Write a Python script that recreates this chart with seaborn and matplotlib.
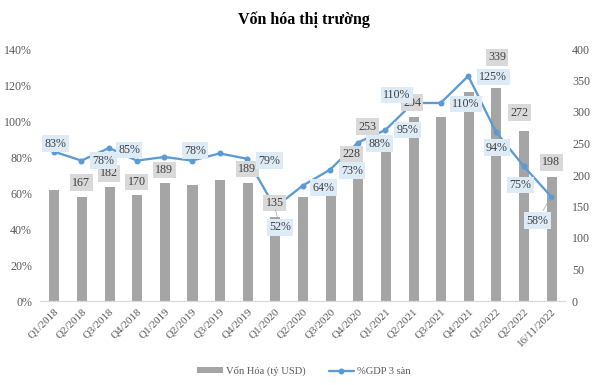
import numpy as np
import pandas as pd
import matplotlib
matplotlib.use('Agg')
import matplotlib.pyplot as plt
import seaborn as sns
from matplotlib.ticker import FuncFormatter, MultipleLocator
from matplotlib.patches import Patch
from matplotlib.lines import Line2D

# du lieu doc tu hinh
quarters = ['Q1/2018', 'Q2/2018', 'Q3/2018', 'Q4/2018',
            'Q1/2019', 'Q2/2019', 'Q3/2019', 'Q4/2019',
            'Q1/2020', 'Q2/2020', 'Q3/2020', 'Q4/2020',
            'Q1/2021', 'Q2/2021', 'Q3/2021', 'Q4/2021',
            'Q1/2022', 'Q2/2022', '16/11/2022']
von_hoa = [178, 167, 182, 170, 189, 186, 194, 189, 135, 167, 169, 228,
           253, 294, 294, 334, 339, 272, 198]
gdp_pct = [83, 78, 85, 78, 80, 78, 82, 79, 52, 64, 73, 88,
           95, 110, 110, 125, 94, 75, 58]

# nhan hien thi (chi so diem)
bar_label_idx = [1, 2, 3, 4, 7, 8, 11, 12, 13, 16, 17, 18]
line_label_idx = [0, 1, 2, 5, 7, 8, 9, 10, 11, 12, 13, 14, 15, 16, 17, 18]

# vi tri nhan (offset, px)
bar_off = {1: (0, 13), 2: (0, 13), 3: (0, 12), 4: (0, 12), 7: (0, 13),
           8: (0, 13), 11: (-6, 3), 12: (-18, 15), 13: (-1, 13),
           16: (1, 30), 17: (-4, 17), 18: (0, 14)}
line_off = {0: (2, 8), 1: (22, 0), 2: (20, -2), 5: (3, 10), 7: (22, -2),
            8: (5, -20), 9: (21, -2), 10: (22, -1), 11: (22, -1),
            12: (22, 0), 13: (-16, 8), 14: (25, -1), 15: (25, -1),
            16: (1, -16), 17: (-3, -19), 18: (-14, -24)}

bar_color = '#A5A5A5'
line_color = '#5B9BD5'
txt_color = '#595959'

sns.set_theme(style='white')
plt.rcParams['font.family'] = ['Liberation Serif', 'DejaVu Serif']

df = pd.DataFrame({'quy': quarters, 'von_hoa': von_hoa, 'gdp': gdp_pct})
n = len(df)

fig, ax = plt.subplots(figsize=(595 / 72, 385 / 72), dpi=72)
fig.subplots_adjust(left=40 / 595, right=565 / 595, bottom=84 / 385, top=1 - 49 / 385)

# cot: von hoa (truc phai)
sns.barplot(data=df, x='quy', y='von_hoa', color=bar_color, saturation=1,
            width=0.4, ax=ax)
ax.set_ylim(0, 400)
ax.yaxis.set_major_locator(MultipleLocator(50))
ax.set_xlabel('')
ax.set_ylabel('')
ax.set_xticks(range(n))
ax.set_xticklabels(quarters, rotation=45, ha='right', rotation_mode='anchor')
ax.tick_params(axis='x', length=0, pad=6, labelsize=11, labelcolor=txt_color)
for s in ['top', 'left', 'right']:
    ax.spines[s].set_visible(False)
ax.spines['bottom'].set_color('#D9D9D9')

# duong: %GDP (truc trai)
ax2 = ax.twinx()
sns.lineplot(x=np.arange(n), y=df['gdp'], ax=ax2, color=line_color, lw=2.3,
             marker='o', markersize=6, markeredgewidth=0)
ax2.set_ylim(0, 140)
ax2.set_xlim(-0.5, n - 0.5)
ax2.yaxis.set_major_locator(MultipleLocator(20))
ax2.yaxis.set_major_formatter(FuncFormatter(lambda v, _: f'{v:.0f}%'))
ax2.yaxis.tick_left()
ax2.set_ylabel('')
ax2.tick_params(axis='y', length=0, pad=8, labelsize=12, labelcolor=txt_color)
for s in ax2.spines.values():
    s.set_visible(False)

# twinx dua truc cot sang trai, dat lai
ax.yaxis.tick_right()
ax.tick_params(axis='y', length=0, pad=7, labelsize=12, labelcolor=txt_color)

# nhan cot
for i in bar_label_idx:
    dx, dy = bar_off[i]
    ax2.annotate(str(von_hoa[i]), xy=(i, von_hoa[i]), xycoords=ax.transData,
                 xytext=(dx, dy), textcoords='offset points',
                 ha='center', va='center', fontsize=12, color='#404040',
                 bbox=dict(boxstyle='square,pad=0.2', fc='#D9D9D9', ec='none'),
                 zorder=5)

# nhan duong
for i in line_label_idx:
    dx, dy = line_off[i]
    kw = {}
    if i in (8, 18):
        kw['arrowprops'] = dict(arrowstyle='-', color='#A6A6A6', lw=0.7)
    ax2.annotate(f'{gdp_pct[i]}%', xy=(i, gdp_pct[i]),
                 xytext=(dx, dy), textcoords='offset points',
                 ha='center', va='center', fontsize=12, color='#404040',
                 bbox=dict(boxstyle='square,pad=0.2', fc='#DDEBF7', ec='none'),
                 zorder=6, **kw)

fig.text(304 / 595, 1 - 20 / 385, 'Vốn hóa thị trường', ha='center', va='center',
         fontsize=16, fontweight='bold', color='black')

handles = [Patch(fc=bar_color, ec='none'),
           Line2D([], [], color=line_color, lw=2.3, marker='o', markersize=6,
                  markeredgewidth=0)]
fig.legend(handles, ['Vốn Hóa (tỷ USD)', '%GDP 3 sàn'], loc='center',
           bbox_to_anchor=(304 / 595, 1 - 371 / 385), ncol=2, frameon=False,
           fontsize=10.5, labelcolor=txt_color, handlelength=2.4, handleheight=0.5,
           columnspacing=2.2, handletextpad=0.3)

plt.savefig('out.png', dpi=72)
